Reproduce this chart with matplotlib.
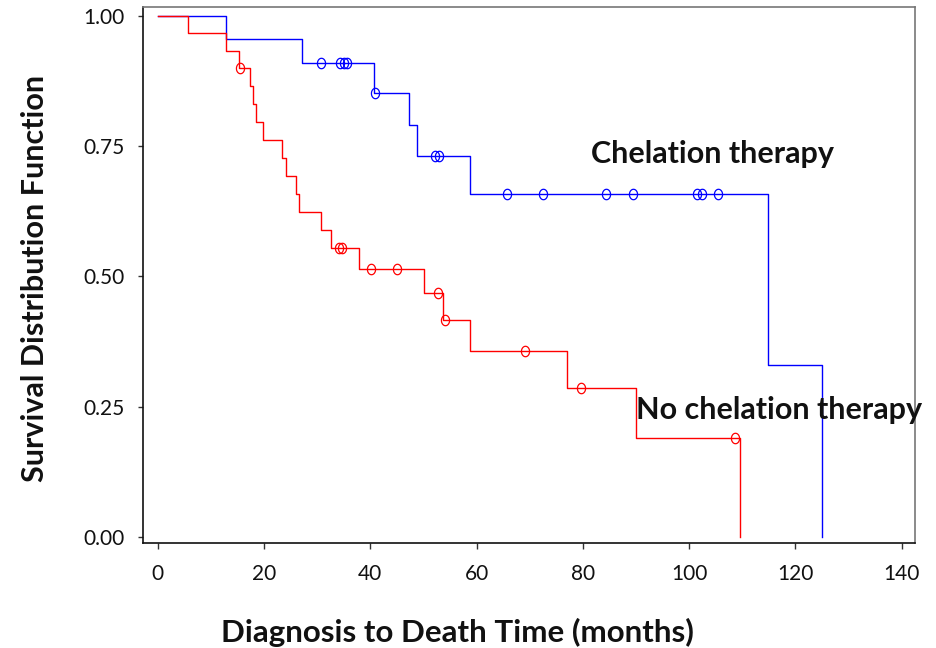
import numpy as np
import matplotlib
matplotlib.use("Agg")
import matplotlib.pyplot as plt
from matplotlib.path import Path

# ---- data ----
blue_times = [0, 12.9, 27.1, 40.8, 47.3, 48.8, 58.8, 114.8, 125.0]
blue_surv = [1.0, 0.955, 0.909, 0.852, 0.791, 0.731, 0.658, 0.329, 0.0]
blue_cens = [30.7, 34.4, 35.0, 35.6, 40.9, 52.1, 52.9, 65.7, 72.5, 84.3, 89.5, 101.5, 102.4, 105.5]

red_times = [0, 5.8, 12.9, 15.3, 17.4, 18.0, 18.5, 19.9, 23.4, 24.1, 26.0, 26.6,
             30.8, 32.7, 37.8, 50.1, 53.7, 58.8, 77.0, 90.0, 109.5]
red_surv = [1.0, 0.967, 0.933, 0.900, 0.865, 0.831, 0.796, 0.762, 0.727, 0.692, 0.658, 0.623,
            0.588, 0.554, 0.514, 0.467, 0.416, 0.356, 0.285, 0.190, 0.0]
red_cens = [15.5, 34.1, 34.6, 40.1, 45.1, 52.8, 54.1, 69.2, 79.7, 108.6]

x_ticks = [0, 20, 40, 60, 80, 100, 120, 140]
y_ticks = [0.0, 0.25, 0.50, 0.75, 1.00]
y_ticklabels = ["0.00", "0.25", "0.50", "0.75", "1.00"]

label_blue = "Chelation therapy"
label_red = "No chelation therapy"
xlabel = "Diagnosis to Death Time (months)"
ylabel = "Survival Distribution Function"


def surv_at(t, times, surv):
    idx = np.searchsorted(np.asarray(times), t, side="right") - 1
    return np.asarray(surv)[idx]


plt.rcParams['font.family'] = ['Lato', 'DejaVu Sans']

fig = plt.figure(figsize=(9.37, 6.48), dpi=100)
ax = fig.add_axes([0.1529, 0.1613, 0.9765 - 0.1529, 0.9887 - 0.1613])

# elliptical open marker (slightly taller than wide)
theta = np.linspace(0, 2 * np.pi, 60)
ell = Path(np.column_stack([0.78 * np.cos(theta), np.sin(theta)]), closed=True)

ax.step(blue_times, blue_surv, where='post', color='#0000ff', lw=1.0, zorder=2)
ax.plot(blue_cens, surv_at(blue_cens, blue_times, blue_surv), linestyle='none',
        marker=ell, markersize=7.5, markerfacecolor='none', markeredgecolor='#0000ff',
        markeredgewidth=0.9, zorder=3)

ax.step(red_times, red_surv, where='post', color='#ff0000', lw=1.0, zorder=2)
ax.plot(red_cens, surv_at(red_cens, red_times, red_surv), linestyle='none',
        marker=ell, markersize=7.5, markerfacecolor='none', markeredgecolor='#ff0000',
        markeredgewidth=0.9, zorder=3)

ax.set_xlim(-2.71, 142.5)
ax.set_ylim(-0.0127, 1.016)
ax.set_xticks(x_ticks)
ax.set_xticklabels([str(v) for v in x_ticks])
ax.set_yticks(y_ticks)
ax.set_yticklabels(y_ticklabels)

ax.tick_params(axis='x', direction='out', length=4.5, width=1.0, pad=10, labelsize=15,
               colors='#333333', labelcolor='#111111')
ax.tick_params(axis='y', direction='out', length=3.5, width=1.0, pad=10, labelsize=15,
               colors='#333333', labelcolor='#111111')

for side in ['left', 'bottom']:
    ax.spines[side].set_color('#111111')
    ax.spines[side].set_linewidth(1.2)
for side in ['top', 'right']:
    ax.spines[side].set_color('#777777')
    ax.spines[side].set_linewidth(1.2)

ax.text(81.5, 0.734, label_blue, fontsize=22, fontweight='bold', va='center', ha='left', color='#111111')
ax.text(90.0, 0.243, label_red, fontsize=22, fontweight='bold', va='center', ha='left', color='#111111')

fig.text(0.5 * (222 + 693) / 937, 1 - 632 / 648, xlabel, fontsize=22.5, fontweight='bold',
         ha='center', va='center', color='#111111')
fig.text(35 / 937, 1 - 278 / 648, ylabel, fontsize=22, fontweight='bold', rotation=90,
         ha='center', va='center', color='#111111')

fig.savefig("out.png", dpi=100)
